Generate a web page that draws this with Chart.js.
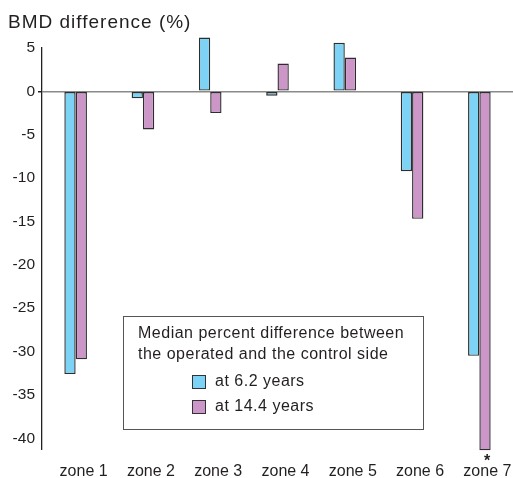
<!DOCTYPE html>
<html>
<head>
<meta charset="utf-8">
<script src="https://cdn.jsdelivr.net/npm/chart.js@4.4.0/dist/chart.umd.min.js"></script>
<style>
  html, body { margin: 0; padding: 0; background: #fff; overflow: hidden; }
  #wrap { width: 513px; height: 478px; }
</style>
</head>
<body>
<div id="wrap"><canvas id="myChart" width="513" height="478"></canvas></div>
<script>
var zones = ["zone 1", "zone 2", "zone 3", "zone 4", "zone 5", "zone 6", "zone 7"];
var at62 = [-32.6, -0.8, 6.2, -0.5, 5.6, -9.2, -30.5];
var at144 = [-30.9, -4.4, -2.5, 3.2, 3.9, -14.7, -41.4];
var yTicks = [5, 0, -5, -10, -15, -20, -25, -30, -35, -40];
var legendTitle = ["Median percent difference between", "the operated and the control side"];
var seriesNames = ["at 6.2 years", "at 14.4 years"];
var starZone = 6; // zone 7, significant

var FONT = "'Liberation Sans', Arial, Helvetica, sans-serif";
var TXT = "#231f20";

// title, legend box and asterisk
var extras = {
    id: "extras",
    afterDraw: function (chart) {
        var c = chart.ctx;
        c.save();
        c.fillStyle = TXT;
        c.textBaseline = "middle";
        c.textAlign = "left";
        c.font = "19px " + FONT;
        c.letterSpacing = "1px";
        c.fillText("BMD difference (%)", 8, 23);

        // legend box
        c.fillStyle = "#fff";
        c.fillRect(123, 316, 300, 113);
        c.strokeStyle = "#555";
        c.lineWidth = 1;
        c.strokeRect(123.5, 316.5, 300, 113);
        c.fillStyle = TXT;
        c.font = "16px " + FONT;
        c.letterSpacing = "0.5px";
        c.fillText(legendTitle[0], 138, 334);
        c.fillText(legendTitle[1], 138, 355);
        var ds = chart.data.datasets;
        for (var i = 0; i < ds.length; i++) {
            var yy = 382 + i * 25;
            c.fillStyle = ds[i].backgroundColor;
            c.fillRect(192.5, yy - 6.5, 13, 13);
            c.strokeStyle = "#333";
            c.strokeRect(192.5, yy - 6.5, 13, 13);
            c.fillStyle = TXT;
            c.fillText(seriesNames[i], 215, yy);
        }

        // asterisk under zone 7
        var bar = chart.getDatasetMeta(1).data[starZone];
        c.letterSpacing = "0px";
        c.font = "bold 16px " + FONT;
        c.textAlign = "center";
        c.fillText("*", bar.x + 2, bar.y + 11);
        c.restore();
    }
};

var ctx = document.getElementById("myChart");
var chart = new Chart(ctx, {
    type: "bar",
    data: {
        labels: zones,
        datasets: [{
            label: seriesNames[0],
            data: at62,
            backgroundColor: "#7dd3f5",
            borderColor: "#2e2e2e",
            borderWidth: 1.4,
            borderSkipped: false,
            clip: false
        }, {
            label: seriesNames[1],
            data: at144,
            backgroundColor: "#cc97c8",
            borderColor: "#2e2e2e",
            borderWidth: 1.4,
            borderSkipped: false,
            clip: false
        }]
    },
    options: {
        responsive: false,
        animation: false,
        layout: { padding: { top: 48, left: 0, right: 0, bottom: 0 } },
        datasets: { bar: { categoryPercentage: 0.336, barPercentage: 1.0 } },
        plugins: {
            legend: { display: false },
            tooltip: { enabled: false }
        },
        scales: {
            x: {
                grid: { display: false },
                border: { display: false },
                ticks: {
                    color: TXT,
                    font: { family: FONT, size: 16 },
                    padding: 4,
                    labelOffset: 8,
                    maxRotation: 0,
                    autoSkip: false
                },
                afterFit: function (s) { s.height = 28.5; }
            },
            y: {
                min: -41.3,
                max: 5,
                afterBuildTicks: function (s) {
                    s.ticks = yTicks.map(function (v) { return { value: v }; });
                },
                afterFit: function (s) { s.width = 42; },
                border: { display: true, color: "#222", width: 1.3 },
                grid: {
                    drawTicks: true,
                    tickLength: 4,
                    tickColor: "#222",
                    lineWidth: function (c) { return c.tick && c.tick.value === 0 ? 1.5 : 0; },
                    color: function (c) { return c.tick && c.tick.value === 0 ? "#8a8a8a" : "rgba(0,0,0,0)"; }
                },
                ticks: {
                    color: TXT,
                    font: { family: FONT, size: 15.5 },
                    padding: 3
                }
            }
        }
    },
    plugins: [extras]
});
</script>
</body>
</html>
